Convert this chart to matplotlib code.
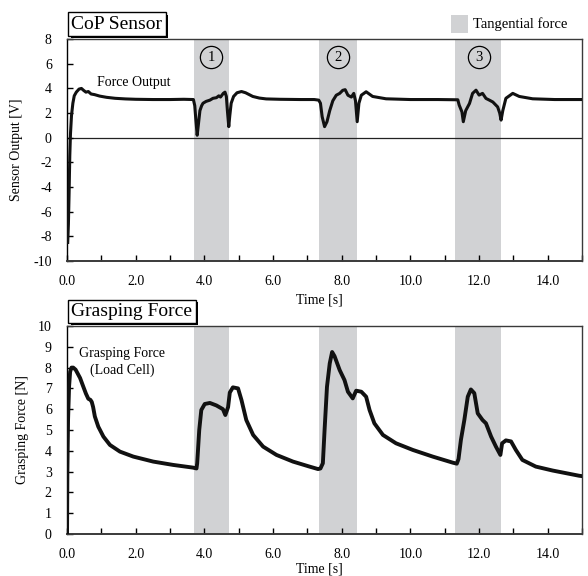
import numpy as np
import matplotlib
matplotlib.use("Agg")
import matplotlib.pyplot as plt
from matplotlib.patches import Rectangle
import matplotlib.patheffects as pe

plt.rcParams['font.family'] = ['Liberation Serif', 'DejaVu Serif']
plt.rcParams['axes.unicode_minus'] = False

# CoP sensor output [V]
cop_t = [0.02, 0.04, 0.06, 0.08, 0.10, 0.13, 0.17, 0.21, 0.27, 0.35, 0.42, 0.48, 0.55, 0.62,
         0.70, 0.80, 0.95, 1.15, 1.4, 1.7, 2.0, 2.5, 3.0, 3.4, 3.68,
         3.72, 3.75, 3.79, 3.83, 3.87, 3.92, 3.96, 4.05, 4.16, 4.25, 4.35, 4.42, 4.47, 4.55,
         4.6, 4.64, 4.67, 4.71, 4.74, 4.78, 4.85, 4.95, 5.08, 5.2, 5.41, 5.6, 5.8, 6.2, 6.8,
         7.2, 7.33,
         7.38, 7.43, 7.5, 7.57, 7.65, 7.74, 7.84, 7.94, 8.03, 8.1, 8.18, 8.28, 8.35, 8.4,
         8.45, 8.5, 8.57, 8.71, 8.9, 9.29, 10.0, 10.8, 11.38,
         11.42, 11.5, 11.54, 11.61, 11.72, 11.81, 11.91, 12.0, 12.1, 12.2, 12.3, 12.4, 12.54,
         12.6, 12.64, 12.69, 12.78, 12.98, 13.17, 13.56, 14.2, 15.0]
cop_v = [-8.5, -7.0, -4.5, -1.5, 0.3, 1.8, 2.8, 3.4, 3.7, 3.95, 4.0, 3.85, 3.7, 3.75,
         3.55, 3.5, 3.38, 3.28, 3.2, 3.15, 3.12, 3.1, 3.1, 3.12, 3.1,
         2.6, 1.5, 0.2, 1.2, 2.2, 2.6, 2.8, 2.95, 3.05, 3.2, 3.25, 3.4, 3.3, 3.6,
         3.7, 3.35, 2.2, 0.9, 1.8, 2.8, 3.35, 3.65, 3.75, 3.65, 3.35, 3.22, 3.15, 3.12, 3.1,
         3.1, 3.05,
         2.8, 1.7, 0.9, 1.3, 2.2, 3.0, 3.45, 3.6, 3.85, 3.9, 3.45, 3.3, 3.6, 3.0,
         1.3, 2.8, 3.45, 3.73, 3.35, 3.16, 3.1, 3.1, 3.08,
         2.65, 2.1, 1.3, 2.2, 2.78, 3.6, 3.86, 3.46, 3.6, 3.19, 3.05, 2.9, 2.5,
         2.0, 1.43, 2.2, 3.2, 3.6, 3.35, 3.16, 3.1, 3.1]

# grasping force from load cell [N]
grip_t = [0.0, 0.01, 0.03, 0.06, 0.09, 0.13, 0.18, 0.25, 0.38, 0.47, 0.55, 0.62, 0.68,
          0.72, 0.76, 0.81, 0.91, 1.06, 1.25, 1.54, 1.93, 2.51, 3.09, 3.67, 3.77, 3.79,
          3.85, 3.91, 4.01, 4.16, 4.35, 4.54, 4.61, 4.69, 4.74, 4.83, 4.98, 5.08, 5.22,
          5.42, 5.71, 6.1, 6.58, 7.06, 7.31, 7.38, 7.45, 7.5, 7.57, 7.65, 7.72, 7.79, 7.94,
          8.08, 8.18, 8.32, 8.42, 8.57, 8.71, 8.81, 8.95, 9.2, 9.58, 10.07, 10.65, 11.23,
          11.35, 11.4, 11.47, 11.57, 11.67, 11.76, 11.86, 11.96, 12.1, 12.2, 12.35, 12.49,
          12.62, 12.67, 12.78, 12.93, 13.07, 13.26, 13.65, 14.14, 14.91, 15.0]
grip_f = [0.0, 3.0, 5.5, 7.1, 7.8, 8.0, 8.0, 7.9, 7.5, 7.1, 6.75, 6.5, 6.45,
          6.35, 6.1, 5.65, 5.16, 4.68, 4.28, 3.96, 3.72, 3.48, 3.32, 3.19, 3.15, 3.4,
          5.0, 5.96, 6.25, 6.3, 6.18, 6.0, 5.72, 6.1, 6.8, 7.05, 7.0, 6.44, 5.48,
          4.76, 4.2, 3.8, 3.48, 3.24, 3.12, 3.15, 3.4, 5.0, 7.08, 8.2, 8.75, 8.55, 7.88,
          7.4, 6.84, 6.52, 6.89, 6.84, 6.6, 5.96, 5.32, 4.76, 4.36, 4.04, 3.72, 3.43,
          3.38, 3.6, 4.52, 5.48, 6.6, 6.95, 6.77, 5.8, 5.48, 5.32, 4.68, 4.2,
          3.8, 4.36, 4.5, 4.45, 4.04, 3.56, 3.24, 3.05, 2.8, 2.78]

# tangential force intervals [s]
tan_start = [3.70, 7.33, 11.30]
tan_end = [4.73, 8.43, 12.65]
tan_labels = ['1', '2', '3']
tan_label_t = [4.2, 7.89, 12.0]

shade = '#d1d2d4'
spine_col = '#3a3a3a'

fig = plt.figure(figsize=(5.88, 5.76), dpi=100)
ax1 = fig.add_axes([0.114, 0.547, 0.876, 0.385])
ax2 = fig.add_axes([0.114, 0.073, 0.876, 0.361])


def style_axis(ax, ylim, yticks, ylabel, xlab_y, ylab_x):
    ax.set_xlim(0, 15)
    ax.set_ylim(*ylim)
    ax.set_xticks(np.arange(0, 15.1, 1.0))
    ax.set_xticklabels([f"{v:.1f}" if v % 2 == 0 else "" for v in np.arange(0, 15.1, 1.0)])
    ax.set_yticks(yticks)
    ax.tick_params(direction='in', length=4, width=1, labelsize=10, pad=10, colors='black')
    ax.tick_params(axis='y', pad=11)
    for s in ax.spines.values():
        s.set_color(spine_col)
        s.set_linewidth(1.0)
    ax.spines['left'].set_color('black')
    ax.spines['bottom'].set_linewidth(1.4)
    ax.set_xlabel("Time [s]", fontsize=10)
    ax.xaxis.set_label_coords(0.489, xlab_y)
    ax.set_ylabel(ylabel, fontsize=10)
    ax.yaxis.set_label_coords(ylab_x, 0.5)
    for a, b in zip(tan_start, tan_end):
        ax.axvspan(a, b, color=shade, lw=0, zorder=0)


def title_box(ax, text, y):
    t = ax.text(0.0085, y, text, transform=ax.transAxes, fontsize=14, ha='left',
                va='bottom', bbox=dict(boxstyle='square,pad=0.16', fc='white', ec='black', lw=1),
                clip_on=False, zorder=6)
    t.get_bbox_patch().set_path_effects([
        pe.SimplePatchShadow(offset=(1.8, -1.8), shadow_rgbFace='black', alpha=1.0),
        pe.Normal()])


# top: CoP sensor
style_axis(ax1, (-10, 8), np.arange(-10, 8.1, 2), "Sensor Output [V]", -0.145, -0.085)
ax1.axhline(0, color='#222222', lw=0.9, zorder=1)
ax1.plot(cop_t, cop_v, color='#111111', lw=2.2, zorder=3, solid_joinstyle='round')
ax1.text(1.95, 4.45, "Force Output", fontsize=10, ha='center', va='center')
for lab, t in zip(tan_labels, tan_label_t):
    ax1.plot(t, 6.55, 'o', ms=16, mfc='none', mec='black', mew=0.9, zorder=4)
    ax1.text(t, 6.5, lab, fontsize=10.5, ha='center', va='center', zorder=4)
title_box(ax1, "CoP Sensor", 1.03)

# bottom: grasping force
style_axis(ax2, (0, 10), np.arange(0, 10.1, 1), "Grasping Force [N]", -0.135, -0.074)
ax2.plot(grip_t, grip_f, color='#111111', lw=2.8, zorder=3, solid_joinstyle='round')
ax2.text(1.6, 8.7, "Grasping Force", fontsize=10, ha='center', va='center')
ax2.text(1.6, 7.85, "(Load Cell)", fontsize=10, ha='center', va='center')
title_box(ax2, "Grasping Force", 1.03)

# legend for shaded region
fig.add_artist(Rectangle((451 / 588, 1 - 33 / 576), 17 / 588, 18 / 576,
                         transform=fig.transFigure, color=shade, lw=0))
fig.text(473 / 588, 1 - 24 / 576, "Tangential force", fontsize=10.5, va='center', ha='left')

fig.savefig("out.png", dpi=100)
